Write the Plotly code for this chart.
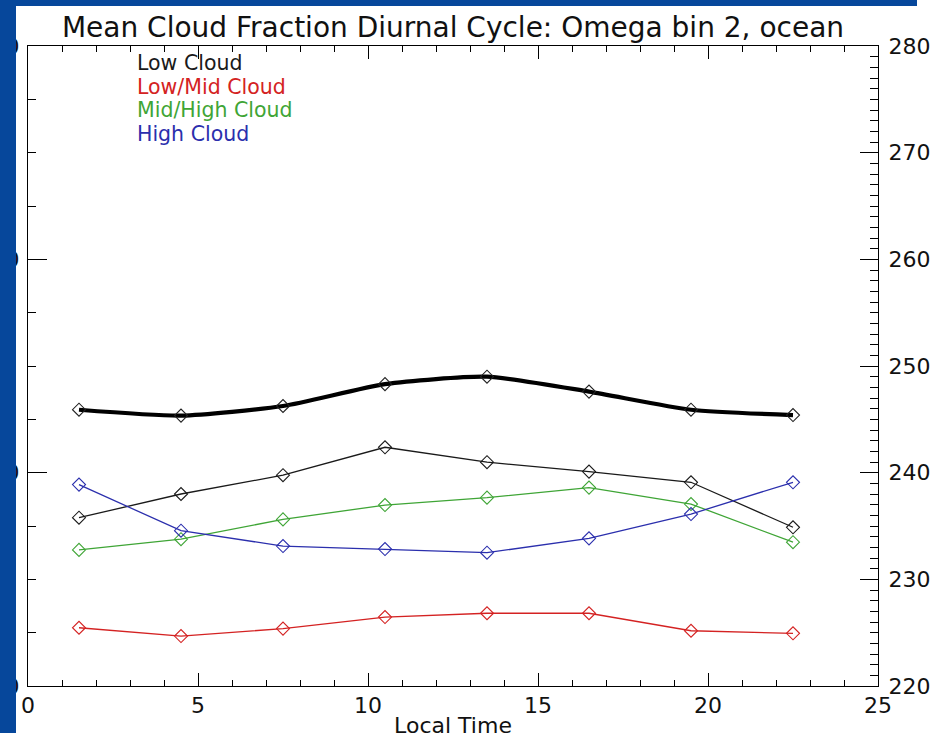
import plotly.graph_objects as go

# Local time bins (hours)
local_time = [1.5, 4.5, 7.5, 10.5, 13.5, 16.5, 19.5, 22.5]

# Cloud fraction per cloud class (left axis)
low_cloud = [0.0789, 0.0900, 0.0988, 0.1119, 0.1049, 0.1005, 0.0955, 0.0744]
low_mid_cloud = [0.0273, 0.0234, 0.0269, 0.0323, 0.0341, 0.0341, 0.0259, 0.0247]
mid_high_cloud = [0.0638, 0.0688, 0.0781, 0.0848, 0.0883, 0.0930, 0.0853, 0.0674]
high_cloud = [0.0944, 0.0728, 0.0656, 0.0642, 0.0625, 0.0692, 0.0806, 0.0955]

# Thick reference curve on the right axis
right_series = [245.9, 245.35, 246.25, 248.3, 249.0, 247.6, 245.9, 245.4]

series_names = ["Low Cloud", "Low/Mid Cloud", "Mid/High Cloud", "High Cloud"]
series_colors = ["#1a1a1a", "#d42222", "#3fa536", "#2b2fad"]

title_text = "Mean Cloud Fraction Diurnal Cycle: Omega bin 2, ocean"
x_title = "Local Time"

W, H = 933, 742
L, R, T, B = 28, 878, 46, 686
FONT = "DejaVu Sans"


def px_x(p):
    return (p - L) / (R - L)


def px_y(p):
    return (B - p) / (B - T)


fig = go.Figure()

for name, vals, col in zip(series_names,
                           [low_cloud, low_mid_cloud, mid_high_cloud, high_cloud],
                           series_colors):
    fig.add_trace(go.Scatter(
        x=local_time, y=vals, name=name, mode="lines+markers",
        line=dict(color=col, width=1.3),
        marker=dict(symbol="diamond-open", size=10, color=col,
                    line=dict(color=col, width=1.1)),
        showlegend=False, yaxis="y",
    ))

fig.add_trace(go.Scatter(
    x=local_time, y=right_series, mode="lines+markers",
    line=dict(color="#000000", width=4.2, shape="spline", smoothing=0.6),
    marker=dict(symbol="diamond-open", size=10, color="#222",
                line=dict(color="#222", width=1.1)),
    showlegend=False, yaxis="y2",
))

# Legend as coloured text lines
legend_y = [63, 87, 110, 134]
for name, col, yy in zip(series_names, series_colors, legend_y):
    fig.add_annotation(
        x=px_x(135), y=px_y(yy), xref="paper", yref="paper",
        text=name, showarrow=False, xanchor="left", yanchor="middle",
        font=dict(family=FONT, size=20.5, color=col),
    )

# Dark blue frame along the top and left edges
frame_blue = "#06479b"
fig.add_shape(type="rect", xref="paper", yref="paper", layer="above",
              x0=px_x(-5), x1=px_x(917), y0=px_y(6), y1=px_y(-5),
              fillcolor=frame_blue, line=dict(width=0))
fig.add_shape(type="rect", xref="paper", yref="paper", layer="above",
              x0=px_x(-5), x1=px_x(16), y0=px_y(733), y1=px_y(-5),
              fillcolor=frame_blue, line=dict(width=0))

axis_font = dict(family=FONT, size=22, color="#111")

fig.update_layout(
    width=W, height=H,
    margin=dict(l=L, r=W - R, t=T, b=H - B, pad=0, autoexpand=False),
    paper_bgcolor="white", plot_bgcolor="white",
    showlegend=False,
    title=dict(text=title_text, x=0.5, xref="paper", xanchor="center",
               y=1 - 27 / H, yref="container", yanchor="middle",
               font=dict(family=FONT, size=28, color="#111")),
    xaxis=dict(
        range=[0, 25], dtick=5, tick0=0, showgrid=False, zeroline=False,
        showline=True, linecolor="black", linewidth=1, mirror="ticks",
        ticks="inside", ticklen=13, tickwidth=1, tickcolor="black",
        minor=dict(dtick=1, ticks="inside", ticklen=6, tickcolor="black",
                   showgrid=False),
        tickfont=axis_font, automargin=False,
        title=dict(text=x_title, font=axis_font, standoff=0),
    ),
    yaxis=dict(
        range=[0, 0.3], dtick=0.1, tick0=0, tickformat=".2f",
        showgrid=False, zeroline=False,
        showline=True, linecolor="black", linewidth=1,
        ticks="inside", ticklen=19, tickwidth=1, tickcolor="black",
        minor=dict(dtick=0.025, ticks="inside", ticklen=8, tickcolor="black",
                   showgrid=False),
        tickfont=axis_font, automargin=False, ticklabelstandoff=3,
    ),
    yaxis2=dict(
        range=[220, 280], dtick=10, tick0=220, overlaying="y", side="right",
        showgrid=False, zeroline=False,
        showline=True, linecolor="black", linewidth=1,
        ticks="inside", ticklen=18, tickwidth=1, tickcolor="black",
        minor=dict(dtick=1, ticks="inside", ticklen=8, tickcolor="black",
                   showgrid=False),
        tickfont=axis_font, automargin=False, ticklabelstandoff=5,
    ),
)

fig.write_html("out.html")
